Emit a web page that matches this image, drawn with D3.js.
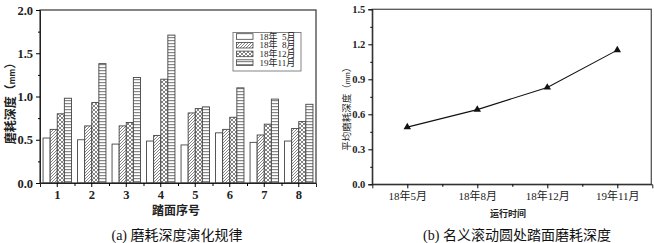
<!DOCTYPE html>
<html><head><meta charset="utf-8">
<script src="https://cdn.jsdelivr.net/npm/d3@7"></script>
<style>body{margin:0;background:#fff}svg{display:block}</style>
</head><body>
<svg id="c" width="654" height="243"></svg>
<script>
// ---- data ----
const treads = ["1","2","3","4","5","6","7","8"];
const seriesNames = ["18年  5月","18年  8月","18年12月","19年11月"];
const s18May = [0.52,0.50,0.45,0.485,0.44,0.58,0.47,0.485];
const s18Aug = [0.62,0.66,0.66,0.55,0.81,0.62,0.555,0.63];
const s18Dec = [0.80,0.93,0.70,1.20,0.86,0.76,0.68,0.71];
const s19Nov = [0.98,1.38,1.22,1.71,0.88,1.10,0.97,0.91];
const leftTicks = [0,0.5,1.0,1.5,2.0];
const timeLabels = ["18年5月","18年8月","18年12月","19年11月"];
const avgDepth = [0.49,0.64,0.83,1.15];
const rightTicks = [0,0.3,0.6,0.9,1.2,1.5];

const series = [s18May,s18Aug,s18Dec,s19Nov];
const fills = ["#fff","url(#pDiag)","url(#pCross)","url(#pHoriz)"];
const NUMF = "'Liberation Serif','Noto Sans CJK SC',serif";
const CJK = "'Noto Sans CJK SC',sans-serif";

const svg = d3.select("#c");
const defs = svg.append("defs");
// patterns
const pd = defs.append("pattern").attr("id","pDiag").attr("patternUnits","userSpaceOnUse").attr("width",3).attr("height",3);
pd.append("rect").attr("width",3).attr("height",3).attr("fill","#fff");
pd.append("path").attr("d","M0,3L3,0M-1,1L1,-1M2,4L4,2").attr("stroke","#666").attr("stroke-width",0.8);
const pc = defs.append("pattern").attr("id","pCross").attr("patternUnits","userSpaceOnUse").attr("width",4).attr("height",4);
pc.append("rect").attr("width",4).attr("height",4).attr("fill","#fff");
pc.append("path").attr("d","M0,0L4,4M0,4L4,0").attr("stroke","#666").attr("stroke-width",0.8);
const ph = defs.append("pattern").attr("id","pHoriz").attr("patternUnits","userSpaceOnUse").attr("width",4).attr("height",3);
ph.append("rect").attr("width",4).attr("height",3).attr("fill","#fff");
ph.append("rect").attr("y",1).attr("width",4).attr("height",1.2).attr("fill","#888");

// ================= LEFT CHART =================
const L = {x0:40, x1:316, y0:183, y1:10};
const xb = d3.scaleBand().domain(treads).range([L.x0,L.x1]).padding(0);
const xs = d3.scaleBand().domain(d3.range(4)).range([-14.2,14.2]).padding(0);
const yl = d3.scaleLinear().domain([0,2]).range([L.y0,L.y1]);

const gl = svg.append("g");
// bars
series.forEach((s,si)=>{
  gl.selectAll(null).data(s).enter().append("rect")
    .attr("x",(d,i)=>xb(treads[i])+xb.bandwidth()/2+xs(si))
    .attr("y",d=>yl(d))
    .attr("width",xs.bandwidth())
    .attr("height",d=>yl(0)-yl(d))
    .attr("fill",fills[si])
    .attr("stroke","#444").attr("stroke-width",0.9);
});
// frame
gl.append("rect").attr("x",L.x0).attr("y",L.y1).attr("width",L.x1-L.x0).attr("height",L.y0-L.y1)
  .attr("fill","none").attr("stroke","#444").attr("stroke-width",1.3);
// y axis
const yAxL = d3.axisLeft(yl).tickValues(leftTicks).tickFormat(d3.format(".1f")).tickSize(4).tickPadding(3);
const ga = gl.append("g").attr("transform",`translate(${L.x0},0)`).call(yAxL);
ga.select(".domain").attr("stroke","#222");
ga.selectAll("text").attr("font-family",NUMF).attr("font-size",12.5).attr("font-weight","bold").attr("fill","#222");
const yMinL = d3.axisLeft(yl).tickValues(d3.range(0.25,2,0.5)).tickSize(2).tickFormat("");
gl.append("g").attr("transform",`translate(${L.x0},0)`).call(yMinL).select(".domain").remove();
// x axis
const xAxL = d3.axisBottom(xb).tickSize(4).tickPadding(3);
const gx = gl.append("g").attr("transform",`translate(0,${L.y0})`).call(xAxL);
gx.select(".domain").attr("stroke","#222");
gx.selectAll("text").attr("font-family",NUMF).attr("font-size",12.5).attr("font-weight","bold").attr("fill","#222");
const xMinL = d3.axisBottom(d3.scaleLinear().domain([0,8]).range([L.x0,L.x1])).tickValues(d3.range(1,8)).tickSize(3).tickFormat("");
gl.append("g").attr("transform",`translate(0,${L.y0})`).call(xMinL).select(".domain").remove();
// titles
gl.append("text").attr("transform",`translate(15,${(L.y0+L.y1)/2+4}) rotate(-90)`).attr("text-anchor","middle")
  .attr("font-family",CJK).attr("font-size",12).attr("font-weight","bold").attr("fill","#222")
  .text("磨耗深度（").append("tspan").attr("font-size",8).text("mm").select(function(){return this.parentNode;})
  .append("tspan").text("）");
gl.append("text").attr("x",(L.x0+L.x1)/2-2).attr("y",215).attr("text-anchor","middle")
  .attr("font-family",CJK).attr("font-size",12).attr("font-weight","bold").attr("fill","#222").text("踏面序号");
gl.append("text").attr("x",177).attr("y",240).attr("text-anchor","middle")
  .attr("font-family",NUMF).attr("font-size",14).attr("fill","#111")
  .text("(a) ").append("tspan").attr("font-family",CJK).text("磨耗深度演化规律");
// legend
const lg = gl.append("g");
lg.append("rect").attr("x",233).attr("y",32.5).attr("width",68).attr("height",38.5)
  .attr("fill","#fff").attr("stroke","#777").attr("stroke-width",0.9);
seriesNames.forEach((n,i)=>{
  const cy = 36.5 + i*8.7;
  lg.append("rect").attr("x",236.5).attr("y",cy-2.8).attr("width",16.5).attr("height",5.6)
    .attr("fill",fills[i]).attr("stroke","#444").attr("stroke-width",0.8);
  lg.append("text").attr("x",259.5).attr("y",cy+3.2).attr("font-family",NUMF).attr("font-size",9)
    .attr("fill","#222").style("white-space","pre").text(n);
});

// ================= RIGHT CHART =================
const R = {x0:372.3, x1:652.3, y0:184.3, y1:9.3};
const xp = d3.scalePoint().domain(timeLabels).range([R.x0,R.x1]).padding(0.5);
const yr = d3.scaleLinear().domain([0,1.5]).range([R.y0,R.y1]);
const gr = svg.append("g");
gr.append("rect").attr("x",R.x0).attr("y",R.y1).attr("width",R.x1-R.x0-1).attr("height",R.y0-R.y1)
  .attr("fill","none").attr("stroke","#555").attr("stroke-width",1.3);
const yAxR = d3.axisLeft(yr).tickValues(rightTicks).tickFormat(d3.format(".1f")).tickSize(4).tickPadding(3);
const gra = gr.append("g").attr("transform",`translate(${R.x0},0)`).call(yAxR);
gra.select(".domain").attr("stroke","#222");
gra.selectAll("text").attr("font-family",NUMF).attr("font-size",10.5).attr("font-weight","bold").attr("fill","#222");
const yMinR = d3.axisLeft(yr).tickValues(d3.range(0.15,1.5,0.3)).tickSize(2).tickFormat("");
gr.append("g").attr("transform",`translate(${R.x0},0)`).call(yMinR).select(".domain").remove();
const xAxR = d3.axisBottom(xp).tickSize(4).tickPadding(4);
const grx = gr.append("g").attr("transform",`translate(0,${R.y0})`).call(xAxR);
grx.select(".domain").attr("stroke","#222");
grx.selectAll("text").attr("font-family",NUMF).attr("font-size",11).attr("fill","#222");
const xMinR = d3.axisBottom(d3.scaleLinear().domain([0,4]).range([R.x0,R.x1])).tickValues([1,2,3]).tickSize(2.5).tickFormat("");
gr.append("g").attr("transform",`translate(0,${R.y0})`).call(xMinR).select(".domain").remove();
// line + markers
const line = d3.line().x((d,i)=>xp(timeLabels[i])).y(d=>yr(d));
gr.append("path").datum(avgDepth).attr("d",line).attr("fill","none").attr("stroke","#111").attr("stroke-width",1.1);
gr.selectAll(null).data(avgDepth).enter().append("path")
  .attr("transform",(d,i)=>`translate(${xp(timeLabels[i])},${yr(d)})`)
  .attr("d",d3.symbol(d3.symbolTriangle,24)).attr("fill","#111");
// titles
gr.append("text").attr("transform",`translate(350,${(R.y0+R.y1)/2+10}) rotate(-90)`).attr("text-anchor","middle")
  .attr("font-family",CJK).attr("font-size",9.5).attr("fill","#222")
  .text("平均磨耗深度（").append("tspan").attr("font-size",6.5).text("mm").select(function(){return this.parentNode;})
  .append("tspan").text("）");
gr.append("text").attr("x",508).attr("y",217).attr("text-anchor","middle")
  .attr("font-family",CJK).attr("font-size",9).attr("font-weight","bold").attr("fill","#222").text("运行时间");
gr.append("text").attr("x",517).attr("y",240).attr("text-anchor","middle")
  .attr("font-family",NUMF).attr("font-size",14).attr("fill","#111")
  .text("(b) ").append("tspan").attr("font-family",CJK).text("名义滚动圆处踏面磨耗深度");
</script>
</body></html>
